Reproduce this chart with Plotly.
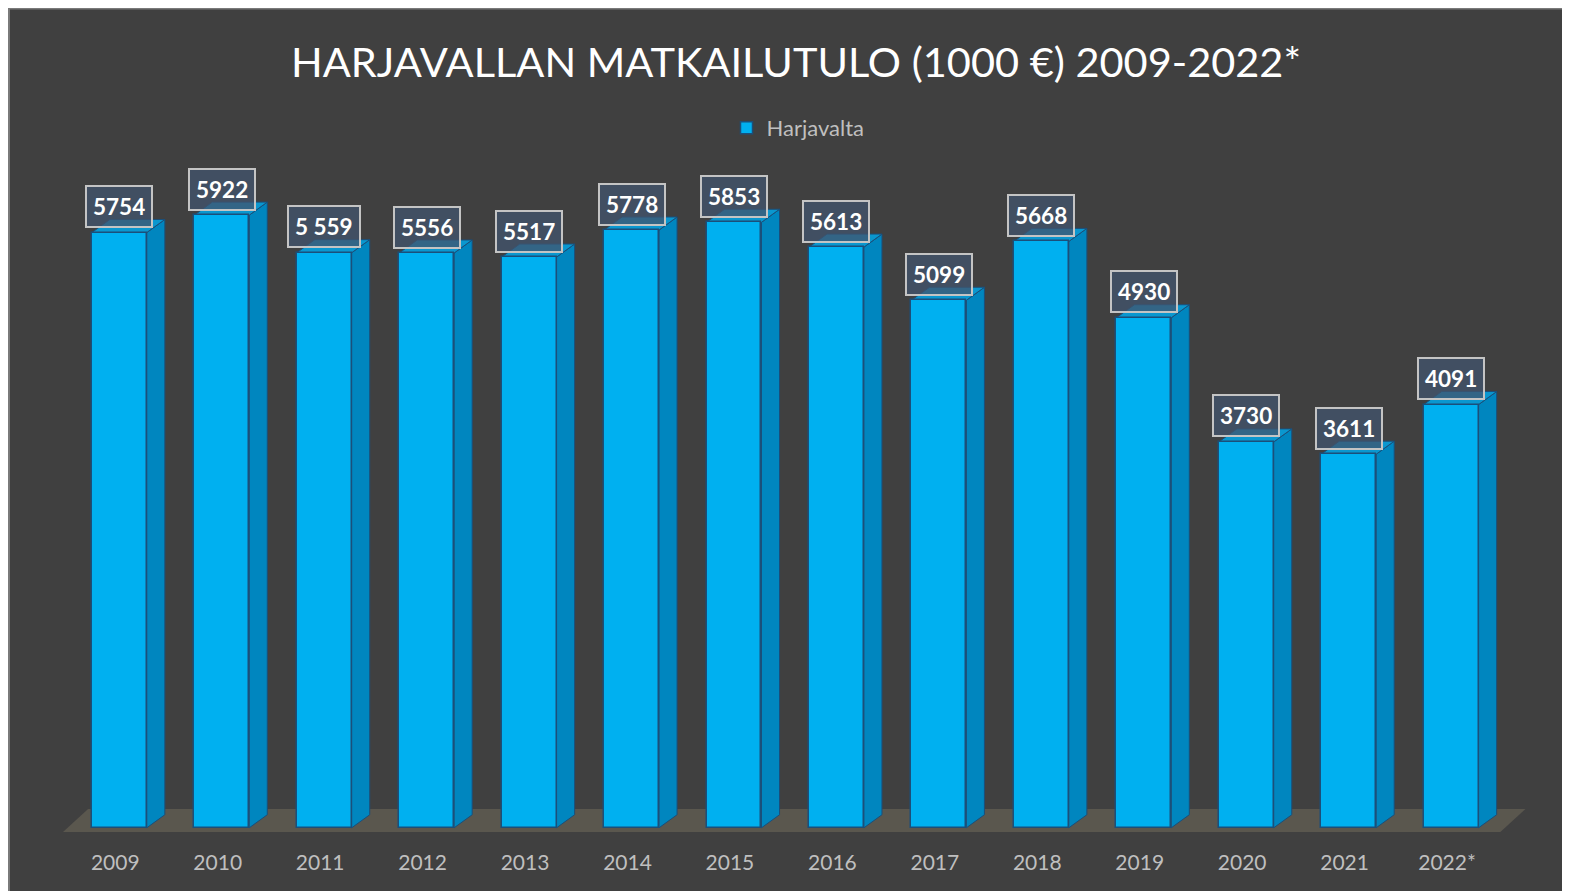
import plotly.graph_objects as go

years = ["2009", "2010", "2011", "2012", "2013", "2014", "2015", "2016",
         "2017", "2018", "2019", "2020", "2021", "2022*"]
values = [5754, 5922, 5559, 5556, 5517, 5778, 5853, 5613, 5099, 5668, 4930, 3730, 3611, 4091]
value_labels = ["5754", "5922", "5 559", "5556", "5517", "5778", "5853", "5613",
                "5099", "5668", "4930", "3730", "3611", "4091"]
series_name = "Harjavalta"
title_text = "HARJAVALLAN MATKAILUTULO (1000 €) 2009-2022*"

# figure sits inside the page's default 8px body margin
W, H = 1562, 883
ML, MR, MT, MB = 55, 42, 137, 57
XR = [-0.55, 13.75]
YR = [-60, 6600]
PW = W - ML - MR
PH = H - MT - MB

FRONT = "#00b0f0"
SIDE = "#0086bf"
TOP = "#0a97cf"
EDGE = "#1b4f7a"
BG = "#404040"
FLOOR = "#5a574e"
FONT = "Lato, sans-serif"

bw = 0.536           # front face width (x units)
hw = bw / 2
dx = 0.176           # depth offset in x units
dy = 126             # depth offset in y units
tick_shift = -0.04   # category labels sit slightly left of the bar fronts

xs = list(range(len(years)))

fig = go.Figure()
fig.add_trace(go.Bar(
    x=xs, y=values, width=bw, name=series_name,
    marker=dict(color=FRONT, line=dict(color=EDGE, width=1.5)),
    showlegend=True, hoverinfo="skip",
))

px2x = lambda p: (p - ML) / PW
py2y = lambda p: 1 - (p - MT) / PH

shapes = []
shapes.append(dict(type="rect", xref="paper", yref="paper", layer="below",
                   x0=px2x(1), x1=px2x(W + 5), y0=py2y(H + 5), y1=py2y(0.5),
                   fillcolor=BG, line=dict(color="#7a7a7a", width=2)))
# floor
fx0, fx1 = XR[0], len(years) - 1 + 0.48
fdx, fdy = 0.245, 222
shapes.append(dict(type="path", xref="x", yref="y", layer="below",
                   path=f"M {fx0},{-40} L {fx1},{-40} L {fx1+fdx},{-40+fdy} L {fx0+fdx},{-40+fdy} Z",
                   fillcolor=FLOOR, line=dict(width=0)))
for i, v in zip(xs, values):
    shapes.append(dict(type="path", xref="x", yref="y", layer="below",
                       path=f"M {i+hw},0 L {i+hw+dx},{dy} L {i+hw+dx},{v+dy} L {i+hw},{v} Z",
                       fillcolor=SIDE, line=dict(color=EDGE, width=1)))
    shapes.append(dict(type="path", xref="x", yref="y", layer="below",
                       path=f"M {i-hw},{v} L {i-hw+dx},{v+dy} L {i+hw+dx},{v+dy} L {i+hw},{v} Z",
                       fillcolor=TOP, line=dict(color=EDGE, width=1)))

annotations = []
for i, v, t in zip(xs, values, value_labels):
    annotations.append(dict(
        x=i, y=v, xref="x", yref="y", text=f"<b>{t}</b>", showarrow=False,
        yshift=26, xanchor="center", yanchor="middle",
        font=dict(family=FONT, size=22.5, color="white"),
        bgcolor="rgba(66,84,110,0.75)", bordercolor="#c4c4c4",
        borderwidth=2, borderpad=6,
    ))

fig.update_layout(
    width=W, height=H,
    margin=dict(l=ML, r=MR, t=MT, b=MB, pad=0),
    paper_bgcolor="white", plot_bgcolor="rgba(0,0,0,0)",
    title=dict(text=title_text, x=788 / W, xref="container", xanchor="center",
               y=1 - 54 / H, yref="container", yanchor="middle",
               font=dict(family=FONT, size=41.5, color="white")),
    legend=dict(orientation="h", x=px2x(790), xanchor="center",
                y=1 + (MT - 120) / PH, yanchor="middle",
                font=dict(family=FONT, size=22, color="#bfbfbf"),
                bgcolor="rgba(0,0,0,0)", itemwidth=30),
    xaxis=dict(range=XR, tickmode="array", tickvals=[i + tick_shift for i in xs],
               ticktext=years,
               showgrid=False, zeroline=False, showline=False,
               ticks="outside", ticklen=10, tickcolor="rgba(0,0,0,0)",
               tickfont=dict(family=FONT, size=21, color="#bfbfbf")),
    yaxis=dict(range=YR, visible=False, showgrid=False, zeroline=False),
    shapes=shapes, annotations=annotations,
    bargap=0,
)

fig.write_html("out.html")
